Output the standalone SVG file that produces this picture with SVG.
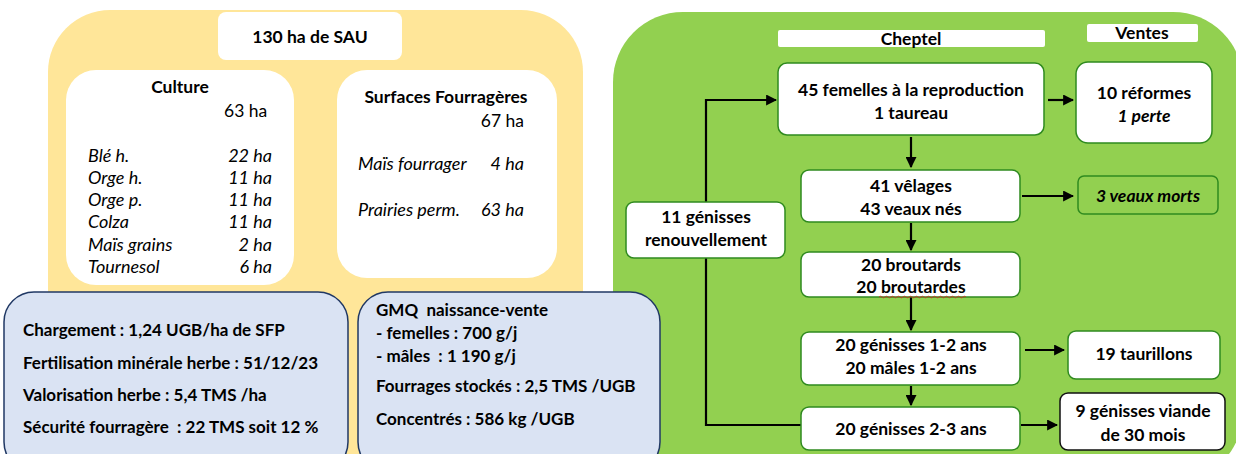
<svg xmlns="http://www.w3.org/2000/svg" width="1236" height="454" viewBox="0 0 1236 454">
<defs>
<marker id="ah" viewBox="0 0 10 10" refX="9" refY="5" markerWidth="5" markerHeight="5" orient="auto" markerUnits="strokeWidth">
<path d="M0,0 L10,5 L0,10 z" fill="#000"/>
</marker>
<style>
text{font-family:Lato,"Liberation Sans",sans-serif;fill:#000;}
.b{font-weight:bold;font-size:17.5px;}
.c{text-anchor:middle;}
.r{font-size:17.5px;}
.i{font-style:italic;font-size:18px;}
.ie{text-anchor:end;}
.bt{font-weight:bold;font-size:17px;}
.node{fill:#fff;stroke:#2f8a1f;stroke-width:1.5;}
.hdr{fill:#fff;}
.blue{fill:#dae3f3;stroke:#203864;stroke-width:1.5;}
.con{fill:none;stroke:#000;stroke-width:2.2;}
</style>
</defs>
<rect width="1236" height="454" fill="#fff"/>
<!-- panels -->
<rect x="48" y="10" width="535" height="500" rx="62" fill="#ffe699"/>
<rect x="613" y="12" width="630" height="470" rx="70" fill="#92d050"/>

<g id="sau">
<rect x="218" y="12" width="184" height="48" rx="8" fill="#fff"/>
<text class="b c" x="310" y="43">130 ha de SAU</text>
</g>

<g id="culture">
<rect x="66" y="70" width="228" height="215" rx="30" fill="#fff"/>
<text class="b c" x="180" y="93">Culture</text>
<text class="r" x="224" y="117">63 ha</text>
<text class="i" x="88" y="162">Blé h.</text><text class="i ie" x="272" y="162">22 ha</text>
<text class="i" x="88" y="184">Orge h.</text><text class="i ie" x="272" y="184">11 ha</text>
<text class="i" x="88" y="206">Orge p.</text><text class="i ie" x="272" y="206">11 ha</text>
<text class="i" x="88" y="228">Colza</text><text class="i ie" x="272" y="228">11 ha</text>
<text class="i" x="88" y="251">Maïs grains</text><text class="i ie" x="272" y="251">2 ha</text>
<text class="i" x="88" y="273">Tournesol</text><text class="i ie" x="272" y="273">6 ha</text>
</g>

<g id="surfaces">
<rect x="337" y="70" width="220" height="208" rx="30" fill="#fff"/>
<text class="b c" x="446" y="103">Surfaces Fourragères</text>
<text class="r ie" x="524" y="127">67 ha</text>
<text class="i" x="358" y="170">Maïs fourrager</text><text class="i ie" x="524" y="170">4 ha</text>
<text class="i" x="358" y="216">Prairies perm.</text><text class="i ie" x="524" y="216">63 ha</text>
</g>

<g id="indicateurs1">
<rect class="blue" x="4" y="292" width="344" height="180" rx="30"/>
<text class="bt" x="23" y="336">Chargement : 1,24 UGB/ha de SFP</text>
<text class="bt" x="23" y="369">Fertilisation minérale herbe : 51/12/23</text>
<text class="bt" x="23" y="401">Valorisation herbe : 5,4 TMS /ha</text>
<text class="bt" x="23" y="433" xml:space="preserve">Sécurité fourragère  : 22 TMS soit 12 %</text>
</g>

<g id="indicateurs2">
<rect class="blue" x="358" y="292" width="302" height="180" rx="30"/>
<text class="bt" x="376" y="316" xml:space="preserve">GMQ  naissance-vente</text>
<text class="bt" x="376" y="339">- femelles : 700 g/j</text>
<text class="bt" x="376" y="362" xml:space="preserve">- mâles  : 1 190 g/j</text>
<text class="bt" x="376" y="392">Fourrages stockés : 2,5 TMS /UGB</text>
<text class="bt" x="376" y="425">Concentrés : 586 kg /UGB</text>
</g>

<g id="connectors">
<path class="con" d="M911,137 V167" marker-end="url(#ah)"/>
<path class="con" d="M911,223 V250" marker-end="url(#ah)"/>
<path class="con" d="M911,297 V330" marker-end="url(#ah)"/>
<path class="con" d="M911,386 V405" marker-end="url(#ah)"/>
<path class="con" d="M1048,100 H1073" marker-end="url(#ah)"/>
<path class="con" d="M1022,196 H1073" marker-end="url(#ah)"/>
<path class="con" d="M1025,350 H1064" marker-end="url(#ah)"/>
<path class="con" d="M1021,425 H1057" marker-end="url(#ah)"/>
<path class="con" d="M801,425 H706 V258"/>
<path class="con" d="M706,202 V100 H776" marker-end="url(#ah)"/>
</g>

<g id="cheptel-hdr">
<rect class="hdr" x="778" y="30" width="267" height="17" rx="2"/>
<text class="b c" x="911" y="45">Cheptel</text>
</g>
<g id="ventes-hdr">
<rect class="hdr" x="1087" y="24" width="111" height="18" rx="2"/>
<text class="b c" x="1142" y="39">Ventes</text>
</g>

<g id="femelles">
<rect class="node" x="778" y="63" width="266" height="72" rx="9"/>
<text class="b c" x="911" y="96">45 femelles à la reproduction</text>
<text class="b c" x="911" y="119">1 taureau</text>
</g>
<g id="reformes">
<rect class="node" x="1076" y="62" width="136" height="81" rx="12"/>
<text class="b c" x="1144" y="99">10 réformes</text>
<text class="b c" x="1144" y="122" font-style="italic">1 perte</text>
</g>
<g id="velages">
<rect class="node" x="801" y="170" width="219" height="52" rx="8"/>
<text class="b c" x="911" y="192">41 vêlages</text>
<text class="b c" x="911" y="215">43 veaux nés</text>
</g>
<g id="veaux-morts">
<rect x="1078" y="176" width="140" height="38" rx="6" fill="#92d050" stroke="#2f8a1f" stroke-width="1.5"/>
<text class="b c" x="1148" y="202" font-style="italic" fill="#1a1a1a">3 veaux morts</text>
</g>
<g id="renouvellement">
<rect class="node" x="626" y="202" width="159" height="56" rx="8"/>
<text class="b c" x="706" y="223">11 génisses</text>
<text class="b c" x="706" y="246">renouvellement</text>
</g>
<g id="broutards">
<rect class="node" x="801" y="252" width="219" height="45" rx="8"/>
<text class="b c" x="911" y="271">20 broutards</text>
<text class="b c" x="911" y="293">20 broutardes</text>
<path d="M879,297 q1.5,-1.5 3,0 t3,0 t3,0 t3,0 t3,0 t3,0 t3,0 t3,0 t3,0 t3,0 t3,0 t3,0 t3,0 t3,0 t3,0 t3,0 t3,0 t3,0 t3,0 t3,0 t3,0 t3,0 t3,0 t3,0 t3,0 t3,0 t3,0 t3,0 t3,0" fill="none" stroke="#e02020" stroke-width="0.8"/>
</g>
<g id="genisses12">
<rect class="node" x="801" y="332" width="219" height="53" rx="8"/>
<text class="b c" x="911" y="351">20 génisses 1-2 ans</text>
<text class="b c" x="911" y="374">20 mâles 1-2 ans</text>
</g>
<g id="taurillons">
<rect class="node" x="1068" y="331" width="152" height="48" rx="8"/>
<text class="b c" x="1144" y="360">19 taurillons</text>
</g>
<g id="genisses23">
<rect class="node" x="801" y="407" width="219" height="43" rx="8"/>
<text class="b c" x="911" y="435">20 génisses 2-3 ans</text>
</g>
<g id="genisses-viande">
<rect x="1060" y="393" width="165" height="57" rx="8" fill="#fff" stroke="#111" stroke-width="1.5"/>
<text class="b c" x="1143" y="417">9 génisses viande</text>
<text class="b c" x="1143" y="441">de 30 mois</text>
</g>
</svg>
